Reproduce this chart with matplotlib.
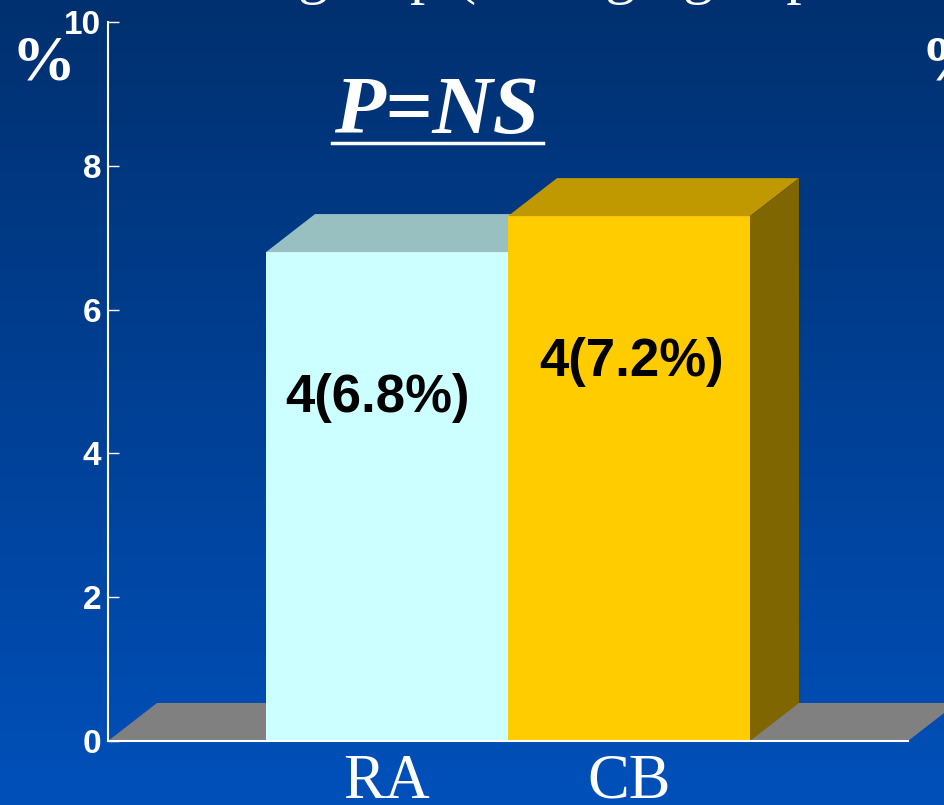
import numpy as np
import matplotlib.pyplot as plt
from matplotlib.patches import Polygon
from matplotlib.lines import Line2D
from matplotlib.colors import LinearSegmentedColormap

# data
groups = ['RA', 'CB']
heights = [6.8, 7.3]
counts = [4, 4]
pcts = [6.8, 7.2]
yticks = [0, 2, 4, 6, 8, 10]

front_cols = ['#CCFFFF', '#FFCC00']
top_cols = ['#99C0C0', '#C09900']
side_cols = ['#99C0C0', '#806600']

fig = plt.figure(figsize=(9.45, 8.05), dpi=100)

# background gradient
bg = fig.add_axes([0, 0, 1, 1], zorder=-10)
grad = np.linspace(0, 1, 256)[:, None]
cmap = LinearSegmentedColormap.from_list('bg', ['#00306F', '#0050BA'])
bg.imshow(grad, aspect='auto', cmap=cmap, extent=[0, 1, 0, 1], origin='upper')
bg.axis('off')

ax = fig.add_axes([108 / 945, 64 / 805, 800 / 945, 719 / 805])
ax.patch.set_alpha(0)
ax.set_xlim(-0.653, 2.653)
ax.set_ylim(0, 10)

# 3D depth (data units)
dx, dy = 0.2025, 0.5285

# floor
x0, x1 = ax.get_xlim()
ax.add_patch(Polygon([(x0, 0), (x1, 0), (x1 + dx, dy), (x0 + dx, dy)],
                     fc='#808080', ec='none', clip_on=False, zorder=1))

xpos = np.arange(len(groups)) + 0.5
bars = ax.bar(xpos, heights, width=1.0, color=front_cols, zorder=3)
for i, b in enumerate(bars):
    z = 3 + i
    b.set_zorder(z + 0.5)
    l, w, h = b.get_x(), b.get_width(), b.get_height()
    ax.add_patch(Polygon([(l, h), (l + w, h), (l + w + dx, h + dy), (l + dx, h + dy)],
                         fc=top_cols[i], ec='none', zorder=z + 0.5, clip_on=False))
    ax.add_patch(Polygon([(l + w, 0), (l + w + dx, dy), (l + w + dx, h + dy), (l + w, h)],
                         fc=side_cols[i], ec='none', zorder=z + 0.5, clip_on=False))
    ax.text(b.get_x() + w / 2 - 0.04 + 0.05 * i, h - 2.03, f'{counts[i]}({pcts[i]}%)',
            ha='center', va='center', fontsize=38, fontweight='bold',
            family='Liberation Sans', color='black', zorder=10)

for s in ['top', 'right']:
    ax.spines[s].set_visible(False)
for s in ['left', 'bottom']:
    ax.spines[s].set_color('white')
    ax.spines[s].set_linewidth(1.5)
    ax.spines[s].set_zorder(8)

ax.set_yticks(yticks)
ax.tick_params(axis='y', direction='in', length=8, width=1, colors='white',
               labelsize=24, pad=5)
for lab in ax.get_yticklabels():
    lab.set_fontweight('bold')
    lab.set_family('Liberation Sans')

ax.set_xticks(xpos, groups)
ax.tick_params(axis='x', length=0, pad=9, labelsize=45, labelcolor='white')
for lab in ax.get_xticklabels():
    lab.set_family('Liberation Serif')

# texts
fig.text(43 / 945, 1 - 64 / 805, '%', ha='center', va='center', fontsize=46,
         fontweight='bold', family='Liberation Serif', color='white')
fig.text(952 / 945, 1 - 64 / 805, '%', ha='center', va='center', fontsize=46,
         fontweight='bold', family='Liberation Serif', color='white')
fig.text(437 / 945, 1 - 133 / 805, 'P=NS', ha='center', va='baseline', fontsize=60,
         fontweight='bold', style='italic', family='Liberation Serif', color='white')
fig.add_artist(Line2D([332 / 945, 543 / 945], [1 - 143 / 805, 1 - 143 / 805],
                      color='white', lw=2.5))
fig.text(298 / 945, 1 + 8 / 805, 'group (  bridging  a p', ha='left', va='baseline',
         fontsize=44, family='Liberation Serif', color='white')

fig.savefig('out.png', dpi=100)
